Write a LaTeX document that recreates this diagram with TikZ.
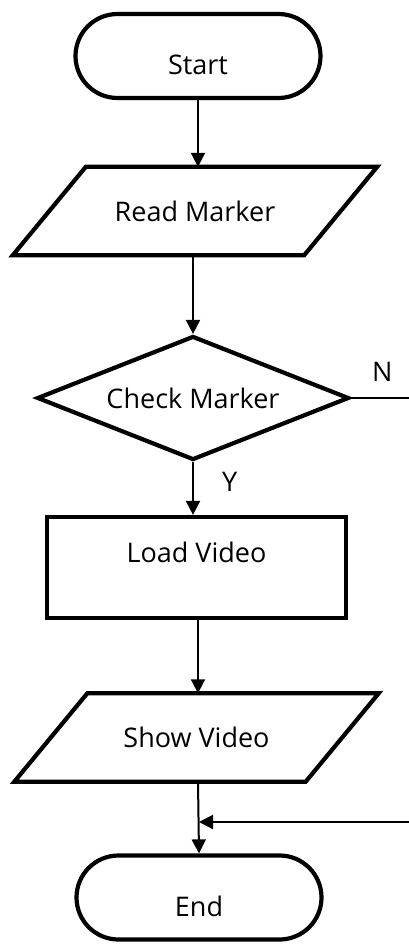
\documentclass[tikz,border=0pt]{standalone}
\usepackage{fontspec}
\setmainfont{Open Sans}
\usetikzlibrary{shapes.geometric,shapes.misc,arrows.meta}

\begin{document}
\begin{tikzpicture}[x=1pt,y=-1pt,font=\fontsize{27}{32}\selectfont]
\tikzset{terminal/.style = {shape=rounded rectangle,draw,line width=4.2pt,inner sep=0pt,minimum width=245pt,minimum height=84pt}}
\tikzset{io/.style = {shape=rectangle,inner sep=0pt,minimum width=291pt,minimum height=88pt,
  append after command={\pgfextra{\draw[line width=4.2pt]
    ([xshift=36.5pt]\tikzlastnode.north west) -- ([xshift=36.5pt]\tikzlastnode.north east) --
    ([xshift=-36.5pt]\tikzlastnode.south east) -- ([xshift=-36.5pt]\tikzlastnode.south west) -- cycle;}}}}
\tikzset{decision/.style = {shape=diamond,draw,line width=4.2pt,inner sep=0pt,shape aspect=2.5,minimum width=312pt,minimum height=124pt}}
\tikzset{process/.style = {shape=rectangle,draw,line width=4.2pt,inner sep=0pt,minimum width=299pt,minimum height=101pt}}
\tikzset{edge/.style = {-{Triangle[length=14pt,width=14pt]},line width=2pt}}
\tikzset{tag/.style = {inner sep=0pt}}
\useasboundingbox (0,0) rectangle (409,945);

% Video playback flow
\node[terminal,label={[yshift=-9pt]center:Start}] (start) at (198,56) {};
\node[io] (read) at (195,211) {Read Marker};
\node[decision] (check) at (193,398) {Check Marker};
\node[process,label={[yshift=15pt]center:Load Video}] (load) at (196.5,567.5) {};
\node[io] (show) at (196.5,737.5) {Show Video};
\node[terminal,label={[yshift=-9pt]center:End}] (end) at (199,897.5) {};
\coordinate (nout) at (409,398);
\coordinate (nin) at (409,822);

\draw[edge] (start.south) -- (start.south |- read.north);
\draw[edge] (check.north |- read.south) -- (check.north);
\draw[edge] (check.south) -- node[tag,right=28pt,pos=0.38] {Y} (check.south |- load.north);
\draw[edge] (load.south -| 198,0) -- (show.north -| 198,0);
\draw[edge] (show.south -| 198,0) -- (end.north);
\draw[line width=2pt] (check.east) -- node[tag,above=16pt,pos=0.54] {N} (nout);
\draw[edge] (nin) -- (nin -| end.north);

\end{tikzpicture}
\end{document}
